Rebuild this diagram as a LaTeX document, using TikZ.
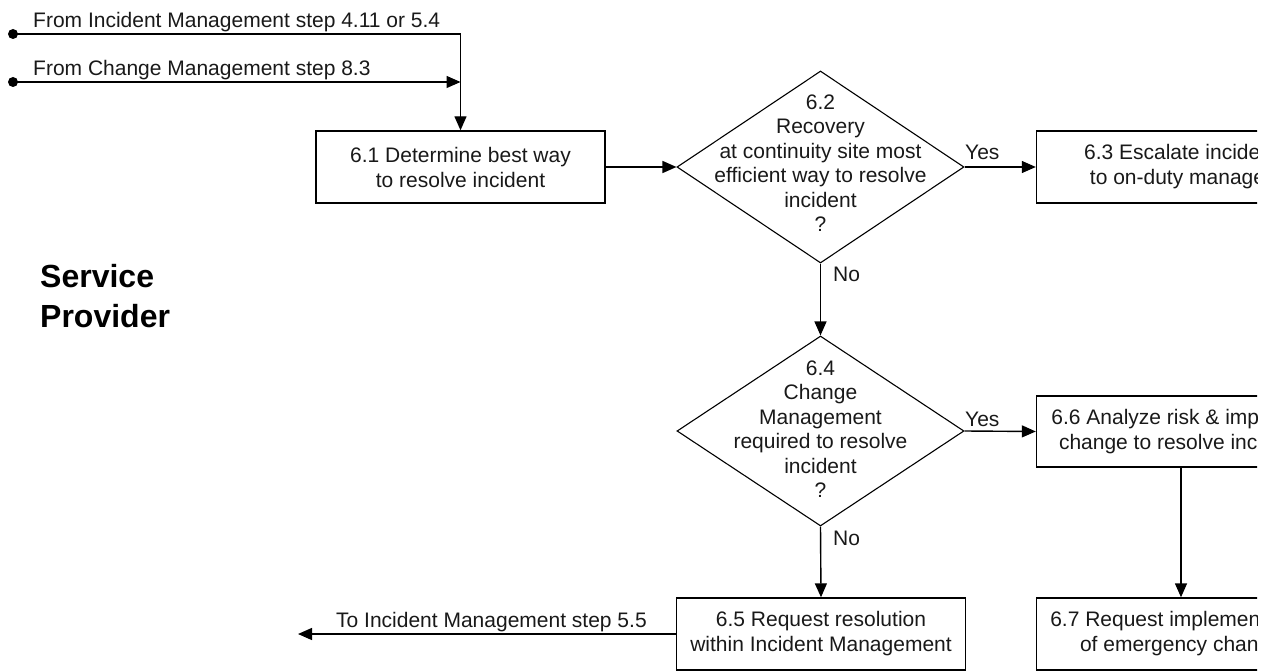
\documentclass[tikz,border=0pt]{standalone}
\usepackage{fontspec}
\setmainfont{Liberation Sans}
\usetikzlibrary{arrows.meta,shapes.geometric}
\tikzset{
  every node/.style={font=\fontsize{21}{25}\selectfont, text=black!90},
  box/.style={draw=black, line width=1.4pt, minimum width=289pt, minimum height=72pt, inner sep=0pt, align=center},
  decision/.style={draw=black, line width=1.1pt, diamond, minimum width=287pt, minimum height=192pt, inner sep=0pt, aspect=1.5},
  dtext/.style={align=center, inner sep=0pt, font=\fontsize{21}{24.5}\selectfont},
  conn/.style={draw=black, line width=1.4pt},
  arr/.style={conn, -{Triangle[length=14pt,width=12pt]}},
  dot/.style={circle, fill=black, inner sep=0pt, minimum size=10pt},
  lbl/.style={anchor=base west, inner sep=0pt},
}
\begin{document}
\begin{tikzpicture}[x=1pt,y=-1pt]
\useasboundingbox (0,0) rectangle (1275,671);
\clip (0,0) rectangle (1257,671);

% boxes
\node[box] (b61) at (460.5,167) {6.1 Determine best way\\to resolve incident};
\node[box] (b63) at (1181,167) {6.3 Escalate incident\\to on-duty manager};
\node[box, minimum height=71pt] (b66) at (1181,431.5) {6.6 Analyze risk \& impact of\\change to resolve incident};
\node[box] (b65) at (821,634) {6.5 Request resolution\\within Incident Management};
\node[box] (b67) at (1181,634) {6.7 Request implementation\\of emergency change};

% decisions
\node[decision] (d62) at (820.5,167) {};
\node[dtext] (t62) at (820.5,163) {6.2\\Recovery\\at continuity site most\\efficient way to resolve\\incident\\?};
\node[decision, minimum height=190pt] (d64) at (820.5,431) {};
\node[dtext] (t64) at (820.5,429) {6.4\\Change\\Management\\required to resolve\\incident\\?};

% side label
\node[anchor=base west, inner sep=0pt, align=left, font=\fontsize{32}{40}\selectfont\bfseries, text=black] (sp) at (40,327) {Service\\Provider};

% incoming
\node[dot] (s1) at (13,34) {};
\node[dot] (s2) at (13,82) {};
\node[lbl] (l1) at (33,28) {From Incident Management step 4.11 or 5.4};
\node[lbl] (l2) at (33,76) {From Change Management step 8.3};
\draw[arr] (s1.center) -| (b61.north);
\draw[arr] (s2.center) -- (s2.center -| b61.north);

% flow
\draw[arr] (b61.east) -- (d62.west);
\draw[arr] (d62.east) -- (b63.west);
\node[lbl] (y62) at (965,160) {Yes};
\draw[arr] (d62.south) -- (d64.north);
\node[lbl] (n62) at (833,281) {No};
\draw[arr] (d64.east) -- (b66.west);
\node[lbl] (y64) at (965,426) {Yes};
\draw[arr] (d64.south) -- (b65.north);
\node[lbl] (n64) at (833,545) {No};
\draw[arr] (b66.south) -- (b67.north);

% outgoing
\coordinate (out) at (298,634);
\draw[arr] (b65.west) -- (out);
\node[lbl] (l3) at (336,627) {To Incident Management step 5.5};
\end{tikzpicture}
\end{document}
